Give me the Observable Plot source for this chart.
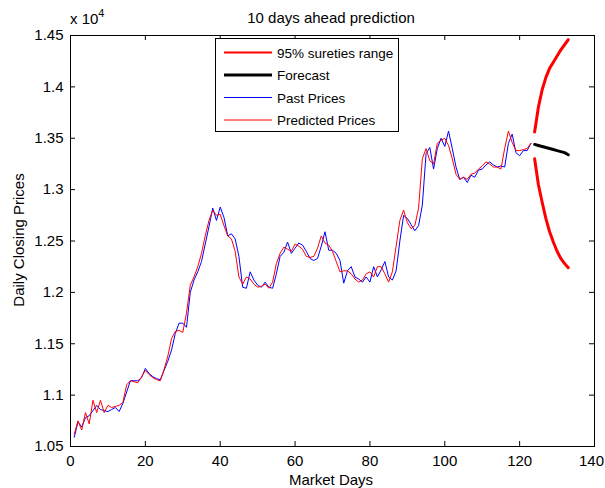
<!DOCTYPE html>
<html><head><meta charset="utf-8">
<script src="https://cdn.jsdelivr.net/npm/d3@7"></script>
<script src="https://cdn.jsdelivr.net/npm/@observablehq/plot@0.6"></script>
<style>
body{margin:0;background:#fff;}
svg{display:block;}
</style>
</head><body><div id="chart"></div>
<script>
// Values in units of 10^4
const pastPrices = [
1.059,1.074,1.069,1.078,1.080,1.085,1.090,1.086,1.085,1.084,
1.086,1.088,1.084,1.092,1.103,1.114,1.114,1.114,1.117,1.126,
1.121,1.118,1.116,1.115,1.124,1.133,1.144,1.160,1.170,1.170,
1.166,1.200,1.212,1.220,1.230,1.247,1.264,1.282,1.270,1.283,
1.273,1.255,1.257,1.252,1.235,1.205,1.204,1.220,1.212,1.207,
1.205,1.210,1.205,1.204,1.218,1.235,1.239,1.249,1.238,1.243,
1.248,1.246,1.240,1.233,1.231,1.233,1.245,1.259,1.241,1.241,
1.238,1.231,1.209,1.221,1.225,1.215,1.213,1.210,1.215,1.210,
1.225,1.215,1.222,1.230,1.215,1.212,1.221,1.250,1.275,1.272,
1.266,1.260,1.265,1.285,1.335,1.341,1.320,1.340,1.350,1.342,
1.357,1.340,1.322,1.310,1.312,1.307,1.314,1.312,1.319,1.320,
1.324,1.327,1.324,1.322,1.323,1.322,1.345,1.354,1.336,1.333,
1.338,1.338,1.345];
const predictedPrices = [
1.062,1.075,1.066,1.083,1.072,1.095,1.083,1.095,1.083,1.090,
1.088,1.089,1.090,1.093,1.110,1.114,1.113,1.112,1.118,1.124,
1.120,1.117,1.115,1.114,1.125,1.138,1.155,1.162,1.163,1.161,
1.180,1.207,1.215,1.225,1.238,1.255,1.270,1.280,1.275,1.276,
1.265,1.255,1.252,1.240,1.215,1.208,1.215,1.213,1.208,1.205,
1.206,1.208,1.204,1.210,1.228,1.238,1.244,1.242,1.240,1.247,
1.245,1.242,1.235,1.234,1.235,1.243,1.255,1.248,1.246,1.240,
1.230,1.220,1.221,1.221,1.218,1.213,1.210,1.212,1.218,1.220,
1.215,1.225,1.225,1.218,1.210,1.220,1.245,1.270,1.280,1.268,
1.262,1.265,1.282,1.330,1.340,1.328,1.325,1.345,1.348,1.350,
1.343,1.330,1.315,1.310,1.312,1.310,1.315,1.316,1.320,1.323,
1.327,1.325,1.322,1.322,1.320,1.340,1.357,1.346,1.338,1.338,
1.339,1.340,1.345];
const forecastDays = [124,125,126,127,128,129,130,131,132,133];
const forecast   = [1.344,1.343,1.342,1.341,1.340,1.339,1.338,1.337,1.336,1.334];
const upperBound = [1.356,1.380,1.397,1.409,1.418,1.424,1.430,1.436,1.441,1.446];
const lowerBound = [1.330,1.305,1.288,1.272,1.259,1.249,1.240,1.233,1.228,1.224];
const xTicks = [0,20,40,60,80,100,120,140];
const yTicks = [1.05,1.1,1.15,1.2,1.25,1.3,1.35,1.4,1.45];
const yTickLabels = ["1.05","1.1","1.15","1.2","1.25","1.3","1.35","1.4","1.45"];
const legendLabels = ["95% sureties range","Forecast","Past Prices","Predicted Prices"];

const past = pastPrices.map((v,i)=>({day:i+1, v}));
const pred = predictedPrices.map((v,i)=>({day:i+1, v}));
const fc = forecastDays.map((d,i)=>({day:d, v:forecast[i], up:upperBound[i], lo:lowerBound[i]}));

const W = 605, H = 488, mL = 70, mR = 11, mT = 35, mB = 42;
const pw = W - mL - mR, ph = H - mT - mB;
const FONT = "Liberation Sans, Arial, sans-serif";
const FS = 15;
const LFS = 13.5;
const lastTick = xTicks[xTicks.length-1];

const plot = Plot.plot({
  width: W, height: H,
  marginLeft: mL, marginRight: mR, marginTop: mT, marginBottom: mB,
  style: {fontFamily: FONT, fontSize: FS + "px", color: "black", background: "white"},
  x: {domain: [0,140]},
  y: {domain: [1.05,1.45]},
  marks: [
    Plot.line(fc, {x:"day", y:"up", stroke:"#ff0000", strokeWidth:3}),
    Plot.line(fc, {x:"day", y:"lo", stroke:"#ff0000", strokeWidth:3}),
    Plot.line(fc, {x:"day", y:"v", stroke:"black", strokeWidth:3}),
    Plot.line(past, {x:"day", y:"v", stroke:"#0000ff", strokeWidth:1}),
    Plot.line(pred, {x:"day", y:"v", stroke:"#ff0000", strokeWidth:1}),
    Plot.ruleX(xTicks, {x: d=>d, insetTop: ph-5, stroke:"black"}),
    Plot.ruleX(xTicks, {x: d=>d, insetBottom: ph-5, stroke:"black"}),
    Plot.ruleY(yTicks, {y: d=>d, insetRight: pw-5, stroke:"black"}),
    Plot.ruleY(yTicks, {y: d=>d, insetLeft: pw-5, stroke:"black"}),
    Plot.axisX({ticks: xTicks.filter(d=>d!==lastTick), tickSize: 0, tickPadding: 9, label: null, tickFormat: d=>String(d)}),
    Plot.axisX({ticks: [lastTick], tickSize: 0, tickPadding: 9, label: null, dx: -3, tickFormat: d=>String(d)}),
    Plot.axisY({ticks: yTicks, tickSize: 0, tickPadding: 7, label: null, tickFormat: d=>yTickLabels[yTicks.indexOf(d)]}),
    Plot.frame({stroke:"black", strokeWidth:1})
  ]
});

const svg = d3.select(plot);
svg.style("font-family", FONT);
// title
svg.append("text").attr("x", 331).attr("y", 23).attr("text-anchor","middle")
  .attr("font-size", FS).attr("fill","black").text("10 days ahead prediction");
// exponent
const ex = svg.append("text").attr("x", 70).attr("y", 24).attr("text-anchor","start")
  .attr("font-size", FS).attr("fill","black");
ex.append("tspan").text("x 10");
ex.append("tspan").attr("dy", -7).attr("font-size", 11).text("4");
// x label
svg.append("text").attr("x", 331).attr("y", 485).attr("text-anchor","middle")
  .attr("font-size", FS).attr("fill","black").text("Market Days");
// y label
svg.append("text").attr("transform","translate(24,240) rotate(-90)").attr("text-anchor","middle")
  .attr("font-size", FS).attr("fill","black").text("Daily Closing Prices");

// legend
const lg = svg.append("g");
lg.append("rect").attr("x",215.5).attr("y",38.5).attr("width",183).attr("height",93)
  .attr("fill","white").attr("stroke","black");
const legendStyles = [
  {stroke:"#ff0000", w:2},
  {stroke:"black", w:3},
  {stroke:"#0000ff", w:1},
  {stroke:"#ff0000", w:1}
];
legendLabels.forEach((t,i)=>{
  const cy = 52.5 + i*22.5;
  lg.append("line").attr("x1",224).attr("x2",272).attr("y1",cy).attr("y2",cy)
    .attr("stroke",legendStyles[i].stroke).attr("stroke-width",legendStyles[i].w);
  lg.append("text").attr("x",277).attr("y",cy+5).attr("text-anchor","start")
    .attr("font-size",LFS).attr("fill","black").text(t);
});

document.getElementById("chart").appendChild(plot);
</script>
</body></html>
